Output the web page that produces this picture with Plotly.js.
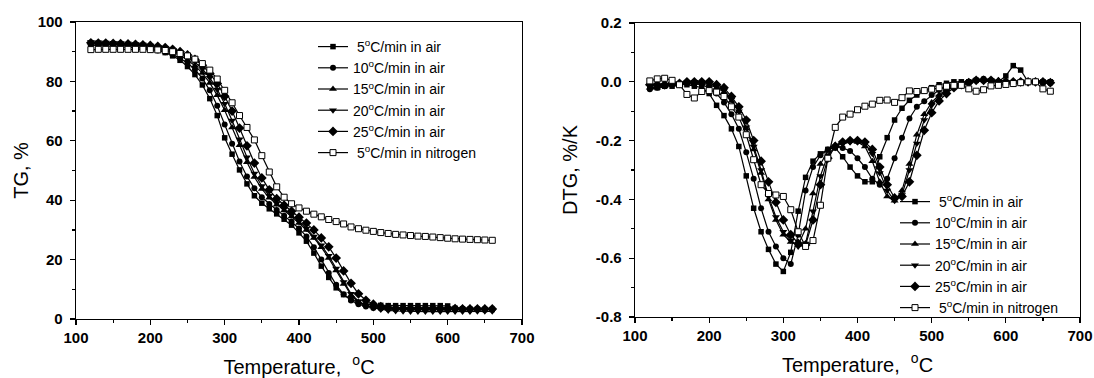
<!DOCTYPE html>
<html>
<head>
<meta charset="utf-8">
<script src="https://cdn.plot.ly/plotly-3.0.1.min.js"></script>
<style>html,body{margin:0;padding:0;background:#fff;}#chart{width:1094px;height:378px;}</style>
</head>
<body>
<div id="chart"></div>
<script>
// Temperature (°C)
const temperature = [120,130,140,150,160,170,180,190,200,210,220,230,240,250,260,270,280,290,300,310,320,330,340,350,360,370,380,390,400,410,420,430,440,450,460,470,480,490,500,510,520,530,540,550,560,570,580,590,600,610,620,630,640,650,660];

// TG, %
const tg5air  = [92.8,92.7,92.6,92.5,92.3,92.1,91.8,91.5,91.1,90.5, 89.7,88.6,87.1,85.0,82.3,78.8,74.2,68.5,61.0, 55.5,50.2,45.5,41.5,39.0,37.1,35.4,33.6,31.6,29.0, 26.2,22.2,17.8,14.0,10.5,8.2,6.6,5.6,5.0,4.7, 4.6,4.5,4.5,4.5,4.5,4.5,4.5,4.5,4.5,4.4,3.6,3.4,3.3,3.3,3.2,3.2];
const tg10air = [92.2,92.1,92.0,91.9,91.8,91.6,91.4,91.1,90.8,90.4, 89.8,89.0,87.8,86.2,84.0,81.0,77.0,71.8,65.5, 59.0,53.0,48.0,44.0,41.0,38.7,36.7,34.8,32.8,30.5, 27.8,24.2,20.0,15.5,11.5,8.3,6.2,5.0,4.2,3.7, 3.5,3.4,3.3,3.3,3.3,3.3,3.3,3.3,3.3,3.3,3.3,3.3,3.3,3.3,3.3,3.3];
const tg15air = [93.0,92.9,92.8,92.7,92.6,92.4,92.2,91.9,91.6,91.2, 90.6,89.8,88.7,87.2,85.3,82.8,79.5,75.3,70.3, 64.5,58.5,52.8,47.8,43.8,40.8,38.5,36.5,34.5,32.3, 30.0,27.3,24.2,20.5,16.3,11.8,8.0,5.6,4.6,4.1, 3.9,3.8,3.8,3.8,3.9,3.8,3.8,3.8,3.8,3.8,3.7,3.7,3.7,3.6,3.6,3.6];
const tg20air = [93.3,93.2,93.1,93.0,92.9,92.8,92.6,92.4,92.1,91.7, 91.2,90.5,89.5,88.2,86.5,84.2,81.2,77.3,72.5, 66.8,60.5,54.5,49.0,44.8,41.5,39.0,37.0,35.0,32.8, 30.5,27.8,24.8,21.3,17.0,12.5,8.5,6.0,4.5,3.7, 3.2,2.9,2.7,2.6,2.5,2.5,2.5,2.5,2.5,2.5,2.5,2.5,2.5,2.6,2.6,2.6];
const tg25air = [93.0,92.9,92.9,92.8,92.7,92.6,92.5,92.3,92.1,91.8, 91.4,90.8,90.0,88.9,87.4,85.4,82.7,79.3,75.0, 70.0,64.3,58.3,52.5,47.5,43.5,40.5,38.3,36.3,34.3, 32.3,30.0,27.3,24.3,20.5,16.2,12.0,8.5,6.3,5.0, 4.2,3.8,3.6,3.5,3.5,3.5,3.5,3.5,3.5,3.5,3.5,3.4,3.4,3.4,3.4,3.4];
const tg5n2   = [90.7,90.8,90.8,90.8,90.8,90.8,90.8,90.8,90.7,90.6, 90.4,90.0,89.4,88.6,87.5,86.0,83.8,80.8,77.0, 72.8,68.5,64.5,60.3,55.0,49.5,44.5,41.0,38.8,37.4, 36.3,35.3,34.4,33.5,32.8,32.0,31.0,30.4,29.9,29.5, 29.1,28.8,28.5,28.3,28.1,27.9,27.8,27.6,27.4,27.2,27.0,26.9,26.8,26.7,26.6,26.5];

// DTG, %/K
const dtg5air  = [-0.02,-0.02,-0.015,-0.015,-0.01,-0.01,-0.015,-0.02,-0.04,-0.08, -0.115,-0.16,-0.22,-0.32,-0.43,-0.51,-0.57,-0.62,-0.645, -0.58,-0.44,-0.325,-0.27,-0.245,-0.23,-0.225,-0.255,-0.29,-0.32, -0.34,-0.34,-0.255,-0.19,-0.13,-0.09,-0.063,-0.045,-0.03,-0.02, -0.01,-0.005,0.0,0.0,0.0,0.005,0.005,0.0,0.0,0.02,0.055,0.04,0.0,0.0,0.0,0.0];
const dtg10air = [-0.025,-0.02,-0.015,-0.01,-0.01,-0.005,-0.005,-0.01,-0.02,-0.04, -0.07,-0.11,-0.16,-0.24,-0.33,-0.43,-0.51,-0.56,-0.6, -0.62,-0.52,-0.37,-0.29,-0.25,-0.23,-0.22,-0.225,-0.235,-0.26, -0.29,-0.33,-0.35,-0.33,-0.26,-0.19,-0.125,-0.085,-0.066,-0.045, -0.028,-0.016,-0.008,-0.003,0.0,0.005,0.01,0.005,0.0,0.0,0.0,0.0,0.0,0.0,-0.005,-0.005];
const dtg15air = [-0.02,-0.02,-0.015,-0.01,-0.01,-0.005,-0.005,-0.005,-0.01,-0.02, -0.035,-0.065,-0.1,-0.16,-0.23,-0.31,-0.4,-0.47,-0.52, -0.545,-0.555,-0.5,-0.38,-0.28,-0.235,-0.215,-0.205,-0.2,-0.205, -0.22,-0.27,-0.34,-0.39,-0.405,-0.37,-0.28,-0.18,-0.11,-0.07, -0.045,-0.025,-0.012,-0.005,0.0,0.005,0.005,0.005,0.005,0.0,0.0,0.0,0.0,0.0,0.0,0.0];
const dtg20air = [-0.015,-0.015,-0.01,-0.01,-0.005,-0.005,0.0,-0.005,-0.005,-0.015, -0.03,-0.06,-0.1,-0.155,-0.22,-0.3,-0.39,-0.46,-0.51, -0.54,-0.56,-0.55,-0.44,-0.32,-0.25,-0.22,-0.21,-0.205,-0.205, -0.21,-0.245,-0.31,-0.37,-0.405,-0.385,-0.3,-0.21,-0.13,-0.08, -0.05,-0.03,-0.015,-0.006,0.0,0.005,0.005,0.005,0.0,0.0,0.0,0.0,0.0,0.0,0.0,0.0];
const dtg25air = [-0.01,-0.01,-0.01,-0.005,-0.005,0.0,0.0,0.0,0.0,-0.01, -0.02,-0.05,-0.085,-0.13,-0.2,-0.27,-0.34,-0.41,-0.47, -0.52,-0.55,-0.555,-0.47,-0.35,-0.26,-0.22,-0.205,-0.2,-0.2, -0.205,-0.23,-0.29,-0.35,-0.395,-0.39,-0.34,-0.25,-0.165,-0.105, -0.065,-0.04,-0.02,-0.01,-0.003,0.005,0.005,0.005,0.0,0.0,0.0,0.0,0.0,0.0,0.0,-0.003];
const dtg5n2   = [0.003,0.01,0.012,0.005,-0.01,-0.043,-0.055,-0.033,-0.03,-0.035, -0.05,-0.085,-0.12,-0.18,-0.265,-0.35,-0.38,-0.385,-0.39, -0.435,-0.51,-0.56,-0.54,-0.42,-0.26,-0.155,-0.12,-0.11,-0.095, -0.083,-0.076,-0.063,-0.062,-0.07,-0.054,-0.031,-0.033,-0.03,-0.025, -0.02,-0.015,-0.012,-0.012,-0.024,-0.032,-0.027,-0.014,-0.012,-0.009,-0.006,-0.003,0.0,0.0,-0.024,-0.032];

const seriesNames = ['\u00a05<sup>o</sup>C/min in air','10<sup>o</sup>C/min in air','15<sup>o</sup>C/min in air','20<sup>o</sup>C/min in air','25<sup>o</sup>C/min in air','\u00a05<sup>o</sup>C/min in nitrogen'];
const tgSeries  = [tg5air, tg10air, tg15air, tg20air, tg25air, tg5n2];
const dtgSeries = [dtg5air, dtg10air, dtg15air, dtg20air, dtg25air, dtg5n2];
const dtgTickVals = [-0.8,-0.6,-0.4,-0.2,0.0,0.2];
const dtgTickText = ['-0.8','-0.6','-0.4','-0.2','0.0','0.2'];

const markerStyles = [
  {symbol:'square', size:5.5, color:'#000'},
  {symbol:'circle', size:6, color:'#000'},
  {symbol:'triangle-up', size:7, color:'#000'},
  {symbol:'triangle-down', size:7, color:'#000'},
  {symbol:'diamond', size:7.5, color:'#000'},
  {symbol:'square', size:6, color:'#fff', line:{color:'#000', width:1}}
];

const FONT = 'Liberation Sans, Arial, Helvetica, sans-serif';
const traces = [];
tgSeries.forEach((ys, i) => {
  traces.push({x: temperature, y: ys, xaxis:'x', yaxis:'y', type:'scatter', mode:'lines+markers',
    name: seriesNames[i], legend:'legend', line:{color:'#000', width:1.2}, marker: markerStyles[i]});
});
dtgSeries.forEach((ys, i) => {
  traces.push({x: temperature, y: ys, xaxis:'x2', yaxis:'y2', type:'scatter', mode:'lines+markers',
    name: seriesNames[i], legend:'legend2', line:{color:'#000', width:1.2}, marker: markerStyles[i]});
});

const W = 1094, H = 378;
function axBase() {
  return {
    showgrid:false, zeroline:false, showline:true, linecolor:'#000', linewidth:1.3, mirror:true,
    ticks:'outside', ticklen:5, tickwidth:1.3, tickcolor:'#000',
    tickfont:{family:FONT, size:15, color:'#000', weight:'bold'},
    minor:{ticks:'outside', ticklen:3, tickwidth:1.3, tickcolor:'#000'}
  };
}
const titleFont = {family:FONT, size:20, color:'#000'};

const xa = Object.assign(axBase(), {domain:[76/W, 522/W], range:[100,700], tick0:100, dtick:100, anchor:'y',
  title:{text:'Temperature,\u00a0\u00a0<sup>o</sup>C', font:titleFont, standoff:14}});
xa.minor.dtick = 50;
const ya = Object.assign(axBase(), {domain:[1-319/H, 1-22/H], range:[0,100], tick0:0, dtick:20, anchor:'x',
  ticklabelstandoff:4, title:{text:'TG, %', font:titleFont, standoff:3}});
ya.minor.dtick = 10;
const xa2 = Object.assign(axBase(), {domain:[635/W, 1080/W], range:[100,700], tick0:100, dtick:100, anchor:'y2',
  title:{text:'Temperature,\u00a0\u00a0<sup>o</sup>C', font:titleFont, standoff:14}});
xa2.minor.dtick = 50;
const ya2 = Object.assign(axBase(), {domain:[1-317/H, 1-23/H], range:[-0.8,0.2], tickmode:'array',
  tickvals:dtgTickVals, ticktext:dtgTickText, anchor:'x2', ticklabelstandoff:4,
  title:{text:'DTG, %/K', font:titleFont, standoff:12}});
ya2.minor = {ticks:'outside', ticklen:3, tickwidth:1.3, tickcolor:'#000', dtick:0.1, tick0:0};

const layout = {
  width:W, height:H, margin:{l:0,r:0,t:0,b:0}, paper_bgcolor:'#fff', plot_bgcolor:'#fff',
  font:{family:FONT, color:'#000'},
  showlegend:true,
  xaxis:xa, yaxis:ya, xaxis2:xa2, yaxis2:ya2,
  yaxis3:{overlaying:'y', side:'right', anchor:'x', range:[0,100], tick0:0, dtick:10, ticks:'inside', ticklen:4, tickwidth:1.2, tickcolor:'#000', showticklabels:false, showgrid:false, zeroline:false, showline:false},
  yaxis4:{overlaying:'y2', side:'right', anchor:'x2', range:[-0.8,0.2], tick0:0, dtick:0.1, ticks:'inside', ticklen:4, tickwidth:1.2, tickcolor:'#000', showticklabels:false, showgrid:false, zeroline:false, showline:false},
  legend:{x:313/W, y:1-31/H, xanchor:'left', yanchor:'top', bgcolor:'rgba(0,0,0,0)', borderwidth:0,
    font:{family:FONT, size:14, color:'#000'}, tracegroupgap:0},
  legend2:{x:895/W, y:1-186/H, xanchor:'left', yanchor:'top', bgcolor:'rgba(0,0,0,0)', borderwidth:0,
    font:{family:FONT, size:14, color:'#000'}, tracegroupgap:0}
};

Plotly.newPlot('chart', traces, layout, {displayModeBar:false, staticPlot:true});
</script>
</body>
</html>
